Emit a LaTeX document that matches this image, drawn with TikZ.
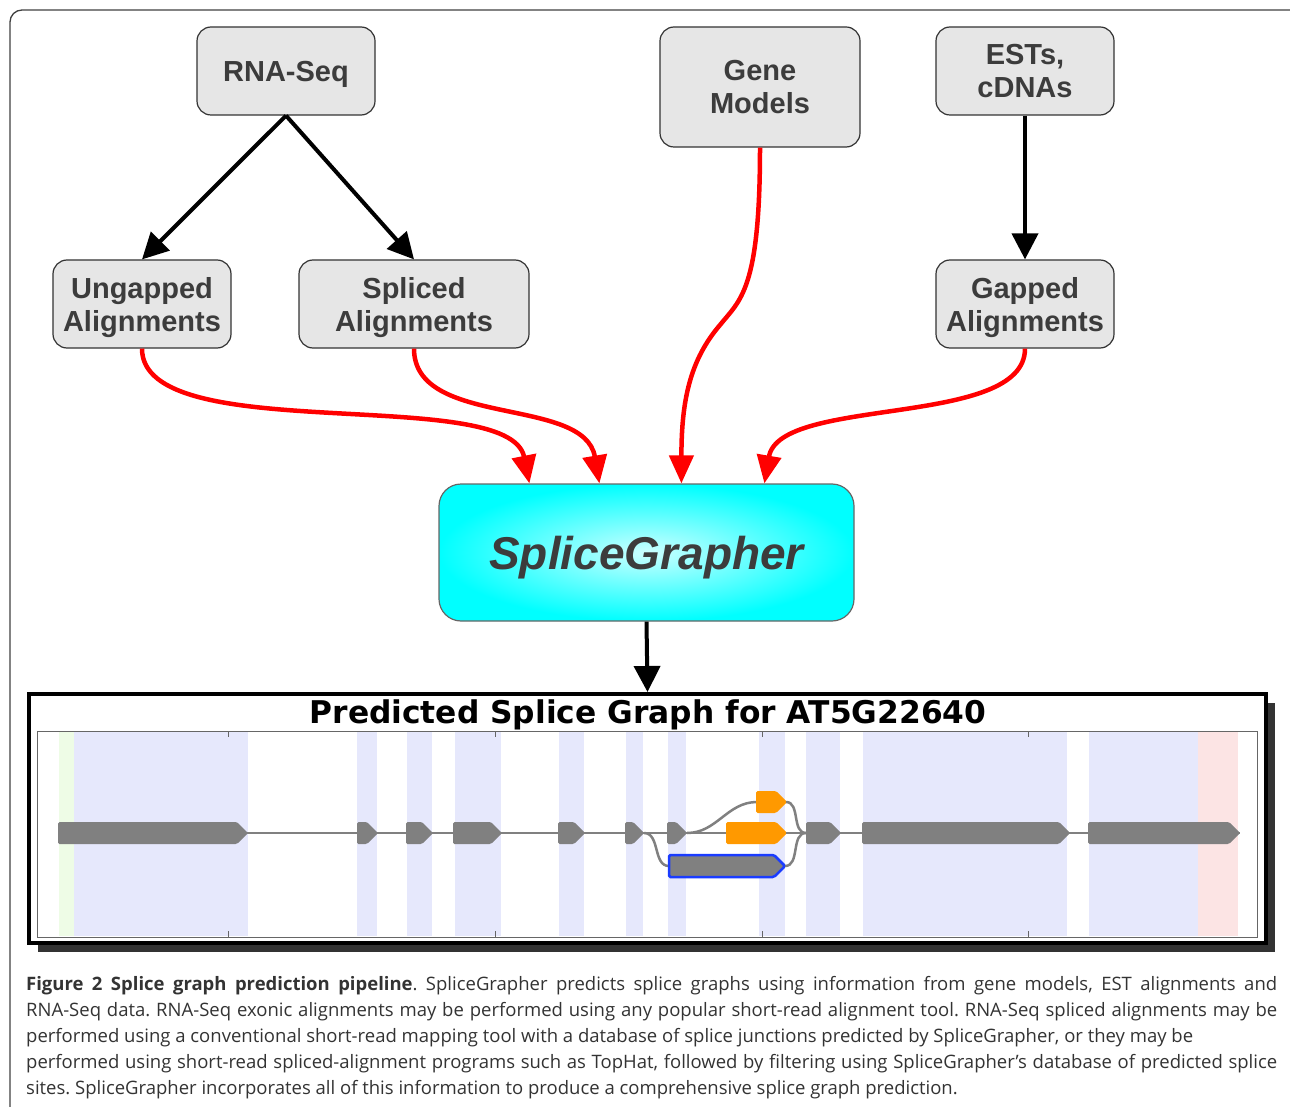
\documentclass[tikz,border=0pt]{standalone}
\usepackage{fontspec}
\newfontfamily\boxfont{Liberation Sans}
\newfontfamily\capfont{Open Sans}
\newfontfamily\plotfont{DejaVu Sans}
\usetikzlibrary{arrows.meta,shadows,calc}
\definecolor{boxgray}{HTML}{E6E6E6}
\definecolor{textgray}{HTML}{3C3C3C}
\definecolor{bandblue}{HTML}{E6E8FC}
\definecolor{bandgreen}{HTML}{EEFCE6}
\definecolor{bandred}{HTML}{FCE4E4}
\definecolor{exongray}{HTML}{808080}
\definecolor{exonorange}{HTML}{FF9900}
\definecolor{exonblue}{HTML}{1A3CFF}
\tikzset{
  source/.style={draw=black!80,fill=boxgray,rounded corners=14pt,line width=1.2pt,
    text=textgray,align=center,inner sep=0pt,text depth=0pt,
    font=\boxfont\bfseries\fontsize{29}{33}\selectfont},
  feed/.style={-{Triangle[width=24pt,length=28pt]},line width=4.5pt,red},
  pass/.style={-{Triangle[width=26pt,length=26pt]},line width=4pt,black},
  intron/.style={exongray,line width=2.5pt},
}
% exon: from x1 to tip x2, centred on y
\newcommand{\exon}[4]{%
  \path[rounded corners=1.5pt,#4] (#1,#3-11) -- (#2-11,#3-11) -- (#2,#3) -- (#2-11,#3+11) -- (#1,#3+11) -- cycle;}
\newcommand{\band}[3]{\fill[#3] (#1,732) rectangle (#2,936);}

\begin{document}
\begin{tikzpicture}[x=1pt,y=-1pt]
\useasboundingbox (0,0) rectangle (1290,1107);
\draw[black!75,line width=1.3pt,rounded corners=12pt] (10,10) rectangle (1302,1119);

% data sources
\node[source,minimum width=178pt,minimum height=88pt] (rnaseq) at (286,71) {RNA-Seq};
\node[source,minimum width=200pt,minimum height=120pt] (genemod) at (760,87) {Gene\\Models};
\node[source,minimum width=178pt,minimum height=88pt] (ests) at (1025,71) {ESTs,\\cDNAs};
\node[source,minimum width=178pt,minimum height=88pt] (ungap) at (142,304) {Ungapped\\Alignments};
\node[source,minimum width=230pt,minimum height=88pt] (spliced) at (414,304) {Spliced\\Alignments};
\node[source,minimum width=178pt,minimum height=88pt] (gapped) at (1025,304) {Gapped\\Alignments};

\node[draw=black!60,line width=1.2pt,rounded corners=22pt,shade,inner color=cyan!20,outer color=cyan,
  minimum width=415pt,minimum height=137pt,text=textgray,text depth=0pt,
  font=\boxfont\bfseries\itshape\fontsize{46}{50}\selectfont] (sg) at (646.5,552.5) {SpliceGrapher};

\draw[pass] (rnaseq.south) -- (ungap.north);
\draw[pass] (rnaseq.south) -- (spliced.north);
\draw[pass] (ests.south) -- (gapped.north);

\coordinate (gmbend) at (720,325);
\draw[feed] (ungap.south) .. controls +(0,100) and +(-20,-100) .. ($(sg.north west)+(91,0)$);
\draw[feed] (spliced.south) .. controls +(0,80) and +(-15,-88) .. ($(sg.north west)+(161,0)$);
\draw[feed] (genemod.south) .. controls +(0,143) and +(20,-25) .. (gmbend)
  .. controls +(-30,35) and +(0,-83) .. ($(sg.north west)+(243,0)$);
\draw[feed] (gapped.south) .. controls +(0,80) and +(15,-88) .. ($(sg.north west)+(326,0)$);

% predicted splice graph panel
\node[draw=black,line width=4pt,fill=white,inner sep=0pt,minimum width=1237pt,minimum height=249pt,
  drop shadow={shadow xshift=9pt,shadow yshift=-9pt,fill=black!80,opacity=1}] (plot) at (647.5,818.5) {};
\draw[pass] (sg.south) -- (plot.north);
\node[font=\plotfont\bfseries\fontsize{31.3}{34}\selectfont] (plottitle) at (648,715) {Predicted Splice Graph for AT5G22640};

\band{59}{74}{bandgreen}
\foreach \a/\b in {74/248,357/377,407/432,455/501,559/584,626/643,668/686,759/785,806/840,863/1067,1089/1198}
  {\band{\a}{\b}{bandblue}}
\band{1198}{1238}{bandred}
\draw[black!60,line width=1pt] (37,731) rectangle (1257,937);
\foreach \t in {228,495,762,1028}
  {\draw[black!60,line width=1pt] (\t,731) -- (\t,737) (\t,937) -- (\t,931);}

\draw[intron] (58,833) -- (1240,833);
\draw[intron] (687,833) to[out=0,in=180] (757,802);
\draw[intron] (786,802) to[out=0,in=180] (806,833);
\draw[intron] (644,833) to[out=0,in=180] (669,866);
\draw[intron] (785,866) to[out=0,in=180] (806,833);

\foreach \a/\b in {58/248,357/378,406/433,453/502,558/585,625/644,667/687,806/841,862/1070,1088/1240}
  {\exon{\a}{\b}{833}{fill=exongray}}
\exon{756}{787}{802}{fill=exonorange}
\exon{726}{787}{833}{fill=exonorange}
\exon{669}{785}{866}{fill=exongray,draw=exonblue,line width=2.5pt}

% caption
\node[anchor=north west,inner sep=0pt,text width=1251pt,align=justify,text=black!80,
  font=\capfont\frenchspacing\fontsize{18.5}{26}\selectfont] (caption) at (26,976)
  {\textbf{Figure 2 Splice graph prediction pipeline}. SpliceGrapher predicts splice graphs using information from gene models, EST alignments and\linebreak
  RNA-Seq data. RNA-Seq exonic alignments may be performed using any popular short-read alignment tool. RNA-Seq spliced alignments may be\linebreak
  performed using a conventional short-read mapping tool with a database of splice junctions predicted by SpliceGrapher, or they may be\newline
  performed using short-read spliced-alignment programs such as TopHat, followed by filtering using SpliceGrapher’s database of predicted splice\linebreak
  sites. SpliceGrapher incorporates all of this information to produce a comprehensive splice graph prediction.};
\end{tikzpicture}
\end{document}
